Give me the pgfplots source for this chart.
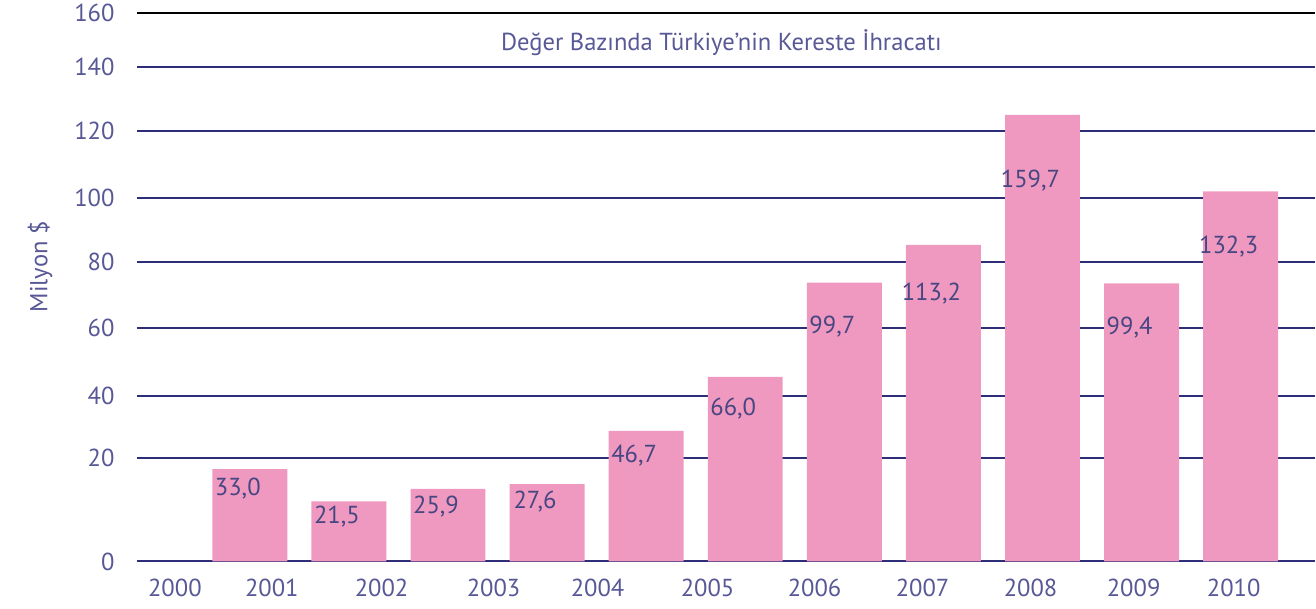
\documentclass[border=0pt]{standalone}
\usepackage{pgfplots}
\pgfplotsset{compat=1.18}
\usepackage{fontspec}
\setmainfont{PT Sans}

\definecolor{barpink}{RGB}{240,153,192}
\definecolor{gridnavy}{RGB}{45,45,120}
\definecolor{labelslate}{RGB}{88,88,150}
\definecolor{valnavy}{RGB}{70,70,130}

\begin{document}
\fontsize{14pt}{17pt}\selectfont
\begin{tikzpicture}
\begin{axis}[
    scale only axis,
    x=1.984cm, y=0.056cm,
    xmin=-1.14, xmax=10.75,
    ymin=0, ymax=196.1,
    clip=false,
    axis line style={draw=none},
    major tick length=0pt,
    % the printed scale is not linear: labels sit on the drawn grid lines
    ytick={0,37.1,59.3,83.6,107.1,130,153.9,176.8},
    yticklabels={0,20,40,60,80,100,120,140},
    extra y ticks={196.1},
    extra y tick labels={160},
    extra y tick style={grid style={black,line width=1.2pt}},
    ymajorgrids,
    grid style={gridnavy,line width=1.1pt},
    xtick={-0.756,0.222,1.33,2.46,3.51,4.62,5.70,6.79,7.88,8.92,9.93},
    xticklabels={2000,2001,2002,2003,2004,2005,2006,2007,2008,2009,2010},
    tick label style={text=labelslate},
    xticklabel style={anchor=center, yshift=-0.54cm},
    yticklabel style={anchor=east, inner sep=0pt, xshift=-0.44cm},
    ybar, bar width=1.5cm,
]

\addplot[
    fill=barpink, draw=none,
    nodes near coords,
    point meta=y,
    visualization depends on=rawy \as \rawy,
    every node near coord/.append style={
        text=valnavy, anchor=center,
        xshift=-0.24cm, yshift={-4.5pt-0.205pt*\rawy},
        /pgf/number format/.cd, fixed, fixed zerofill, precision=1,
        use comma, assume math mode=true},
] coordinates {
    (0,33.0) (1,21.5) (2,25.9) (3,27.6) (4,46.7) (5,66.0)
    (6,99.7) (7,113.2) (8,159.7) (9,99.4) (10,132.3)
};

\node[text=labelslate] at ([xshift=-0.09cm]rel axis cs:0.5,0.945)
    {Değer Bazında Türkiye’nin Kereste İhracatı};
\node[rotate=90, text=labelslate] at ([xshift=-1.94cm]rel axis cs:0,0.537)
    {Milyon \$};

\path ([xshift=-2.74cm,yshift=-0.94cm]rel axis cs:0,0);
\path ([yshift=0.26cm]rel axis cs:1,1);

\end{axis}
\end{tikzpicture}
\end{document}
